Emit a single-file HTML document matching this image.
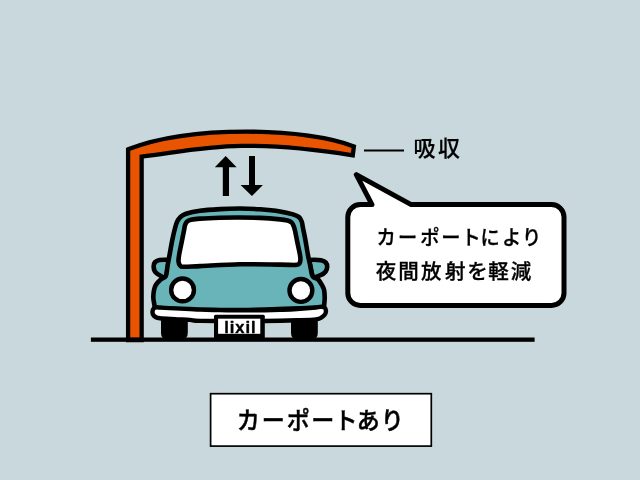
<!DOCTYPE html>
<html lang="ja">
<head>
<meta charset="utf-8">
<title>カーポートあり</title>
<style>
html,body{margin:0;padding:0;background:#c9d8dc;}
body{width:640px;height:480px;overflow:hidden;}
svg{display:block;will-change:transform;}
text{font-family:"Liberation Sans","Noto Sans CJK JP",sans-serif;fill:#000;}
</style>
</head>
<body>
<svg width="640" height="480" viewBox="0 0 640 480">
<rect width="640" height="480" fill="#c9d8dc"/>

<!-- carport -->
<path d="M128.1,340 L128.1,149.35 C192.0,124.4 308.1,128.1 353.9,146.5 L352.8,155.3 C238.0,137.1 200.0,149.5 141.65,156.65 L141.65,340 Z" fill="#e85400" stroke="#000" stroke-width="4.3" stroke-linejoin="miter"/>

<!-- leader line + label -->
<line x1="364" y1="150.4" x2="404" y2="150.4" stroke="#000" stroke-width="2"/>
<text id="t1" x="413.6" y="156" font-size="22" font-weight="500" letter-spacing="2.4" stroke="#000" stroke-width="0.2">吸収</text>

<!-- arrows -->
<path d="M225.7,156 L236.6,167.3 L229,167.3 L229,196 L222.8,196 L222.8,167.3 L214.8,167.3 Z" fill="#000"/>
<path d="M251.9,196 L262.9,185 L255,185 L255,156 L249,156 L249,185 L240.6,185 Z" fill="#000"/>

<!-- wheels -->
<path d="M161,318 H187.8 V333 Q187.8,339 182,339 H167 Q161,339 161,333 Z" fill="#000"/>
<path d="M291,318 H317.8 V333 Q317.8,339 312,339 H297 Q291,339 291,333 Z" fill="#000"/>

<!-- car mirrors -->
<path d="M169.5,259.8 C165,259.8 162,259.6 159.5,260 C155.5,260.8 153.5,263.5 153.6,266.5 C153.7,270 154.8,272.4 157.3,273.9 L166,278.9 Z" fill="#68b4b8" stroke="#000" stroke-width="4.6" stroke-linejoin="round"/>
<path d="M309,260 C314,259.7 318,259.7 321,260.3 C325,261.1 327.3,263.6 327.2,266.9 C327.1,270.6 324.6,273.6 320.6,275.1 L313,278.2 Z" fill="#68b4b8" stroke="#000" stroke-width="4.6" stroke-linejoin="round"/>

<!-- car body -->
<path d="M154.70,307.50 C154.65,307.08 154.63,306.67 154.40,305.00 C154.17,303.33 153.36,300.00 153.30,297.50 C153.24,295.00 153.63,292.08 154.05,290.00 C154.47,287.92 154.78,286.67 155.80,285.00 C156.83,283.33 158.78,281.23 160.20,280.00 C161.62,278.77 163.30,278.43 164.30,277.60 C165.30,276.77 165.63,277.10 166.20,275.00 C166.77,272.90 167.14,268.33 167.70,265.00 C168.26,261.67 168.78,259.17 169.55,255.00 C170.32,250.83 171.36,244.58 172.30,240.00 C173.24,235.42 174.38,230.58 175.20,227.50 C176.02,224.42 176.35,223.22 177.20,221.50 C178.05,219.78 178.83,218.48 180.30,217.20 C181.77,215.92 182.72,214.88 186.00,213.80 C189.28,212.72 194.33,211.48 200.00,210.70 C205.67,209.92 213.33,209.46 220.00,209.10 C226.67,208.74 233.33,208.52 240.00,208.55 C246.67,208.58 253.33,208.83 260.00,209.30 C266.67,209.78 274.50,210.55 280.00,211.40 C285.50,212.25 289.82,213.44 293.00,214.40 C296.18,215.36 297.60,215.97 299.05,217.15 C300.50,218.33 301.06,219.78 301.70,221.50 C302.34,223.22 302.28,224.42 302.90,227.50 C303.52,230.58 304.56,235.42 305.40,240.00 C306.24,244.58 307.17,250.83 307.95,255.00 C308.73,259.17 309.43,261.67 310.10,265.00 C310.78,268.33 311.32,272.90 312.00,275.00 C312.68,277.10 313.10,276.77 314.20,277.60 C315.30,278.43 317.32,278.77 318.60,280.00 C319.88,281.23 320.98,283.33 321.90,285.00 C322.82,286.67 323.63,287.92 324.10,290.00 C324.57,292.08 324.68,295.00 324.70,297.50 C324.72,300.00 324.35,303.33 324.20,305.00 C324.05,306.67 323.87,307.08 323.80,307.50 C300,308.4 270,310.0 240,310.0 C210,310.0 180,310.2 154.7,307.5 Z" fill="#68b4b8" stroke="#000" stroke-width="4.6" stroke-linejoin="round"/>

<!-- windshield -->
<path d="M179.10,255.00 C179.62,251.83 180.77,246.67 181.60,242.50 C182.43,238.33 183.53,232.87 184.10,230.00 C184.67,227.13 184.53,226.67 185.00,225.30 C185.47,223.93 185.90,222.72 186.90,221.80 C187.90,220.88 188.82,220.33 191.00,219.80 C193.18,219.27 195.17,218.95 200.00,218.60 C204.83,218.25 213.33,217.88 220.00,217.70 C226.67,217.52 233.33,217.47 240.00,217.50 C246.67,217.53 253.33,217.58 260.00,217.90 C266.67,218.22 275.42,218.95 280.00,219.40 C284.58,219.85 285.57,220.10 287.50,220.60 C289.43,221.10 290.62,221.58 291.60,222.40 C292.58,223.22 292.86,224.23 293.40,225.50 C293.94,226.77 294.18,227.17 294.85,230.00 C295.52,232.83 296.54,238.33 297.40,242.50 C298.26,246.67 299.50,252.08 300.00,255.00 C300.50,257.92 300.52,258.57 300.40,260.00 C300.28,261.43 300.03,262.78 299.30,263.60 C298.57,264.42 299.22,264.73 296.00,264.90 C292.78,265.07 289.33,264.71 280.00,264.60 C270.67,264.49 253.33,264.00 240.00,264.25 C226.67,264.50 209.42,265.68 200.00,266.10 C190.58,266.53 186.83,266.92 183.50,266.80 C180.17,266.68 180.83,266.28 180.00,265.40 C179.17,264.52 178.65,263.23 178.50,261.50 C178.35,259.77 178.58,258.17 179.10,255.00 Z" fill="#fff" stroke="#000" stroke-width="4.6" stroke-linejoin="round"/>

<!-- headlights -->
<circle cx="182.55" cy="289.9" r="11.4" fill="#fff" stroke="#000" stroke-width="4.4"/>
<circle cx="300.9" cy="290.45" r="11.4" fill="#fff" stroke="#000" stroke-width="4.4"/>

<!-- bumper -->
<path d="M156.50,307.30 C157.53,307.18 156.92,307.42 160.00,307.60 C163.08,307.78 170.00,308.16 175.00,308.40 C180.00,308.64 185.83,308.85 190.00,309.05 C194.17,309.25 195.00,309.43 200.00,309.60 C205.00,309.78 213.33,309.98 220.00,310.10 C226.67,310.22 232.50,310.27 240.00,310.30 C247.50,310.33 258.00,310.38 265.00,310.30 C272.00,310.22 276.67,310.01 282.00,309.80 C287.33,309.59 291.33,309.43 297.00,309.05 C302.67,308.67 311.92,307.89 316.00,307.50 C320.08,307.11 320.07,306.68 321.50,306.70 C322.93,306.72 323.87,306.97 324.60,307.60 C325.33,308.23 325.80,309.43 325.90,310.50 C326.00,311.57 325.85,312.88 325.20,314.00 C324.55,315.12 323.53,316.30 322.00,317.20 C320.47,318.10 320.17,318.88 316.00,319.40 C311.83,319.92 305.50,320.04 297.00,320.30 C288.50,320.56 274.50,320.84 265.00,320.95 C255.50,321.06 250.83,320.96 240.00,320.95 C229.17,320.94 208.33,321.07 200.00,320.90 C191.67,320.72 194.17,320.18 190.00,319.90 C185.83,319.62 180.00,319.47 175.00,319.20 C170.00,318.93 163.25,318.67 160.00,318.30 C156.75,317.93 156.67,317.63 155.50,317.00 C154.33,316.37 153.48,315.50 153.00,314.50 C152.52,313.50 152.47,312.03 152.60,311.00 C152.73,309.97 153.15,308.92 153.80,308.30 C154.45,307.68 155.47,307.42 156.50,307.30 Z" fill="#fff" stroke="#000" stroke-width="4.4" stroke-linejoin="round"/>

<!-- plate -->
<path d="M214,339 V316.2 Q214,314.7 215.5,314.7 H263.3 Q264.8,314.7 264.8,316.2 V339 Z" fill="#000"/>
<rect x="218.1" y="318.7" width="42.2" height="15.1" fill="#fff"/>
<text id="t2" x="224.3" y="332.7" font-size="16.5" font-weight="700" letter-spacing="0.95" stroke="#000" stroke-width="0.4" stroke-linejoin="round">lixil</text>

<!-- ground -->
<rect x="90.9" y="337.5" width="443.7" height="4.3" fill="#000"/>

<!-- speech bubble -->
<path d="M360.3,204.6 L372,204.6 L356.3,174.6 L411.2,204.6 L551.5,204.6 C558.40,204.6 564.0,210.20 564.0,217.1 L564.0,293.0 C564.0,299.90 558.40,305.5 551.5,305.5 L360.3,305.5 C353.40,305.5 347.8,299.90 347.8,293.0 L347.8,217.1 C347.8,210.20 353.40,204.6 360.3,204.6 Z" fill="#fff" stroke="#000" stroke-width="5" stroke-linejoin="round"/>
<text id="t3" transform="scale(0.95,1)" x="396.33 418.91 442.33 464.38 485.80 505.85 528.43 549.54" y="244.9" font-size="20.3" font-weight="500" stroke="#000" stroke-width="0.3">カーポートにより</text>
<text id="t4" x="375.8 398.3 421.1 445.0 467.2 488.3 510.8" y="279.4" font-size="20.5" font-weight="500" stroke="#000" stroke-width="0.3">夜間放射を軽減</text>

<!-- bottom label -->
<rect x="210.6" y="393.7" width="220.7" height="52.4" fill="#fff" stroke="#000" stroke-width="1.7"/>
<text id="t5" transform="scale(0.96,1)" x="246.54 272.64 298.62 324.25 348.52 371.54 396.54" y="429" font-size="24" font-weight="500" stroke="#000" stroke-width="0.45">カーポートあり</text>
</svg>
</body>
</html>
